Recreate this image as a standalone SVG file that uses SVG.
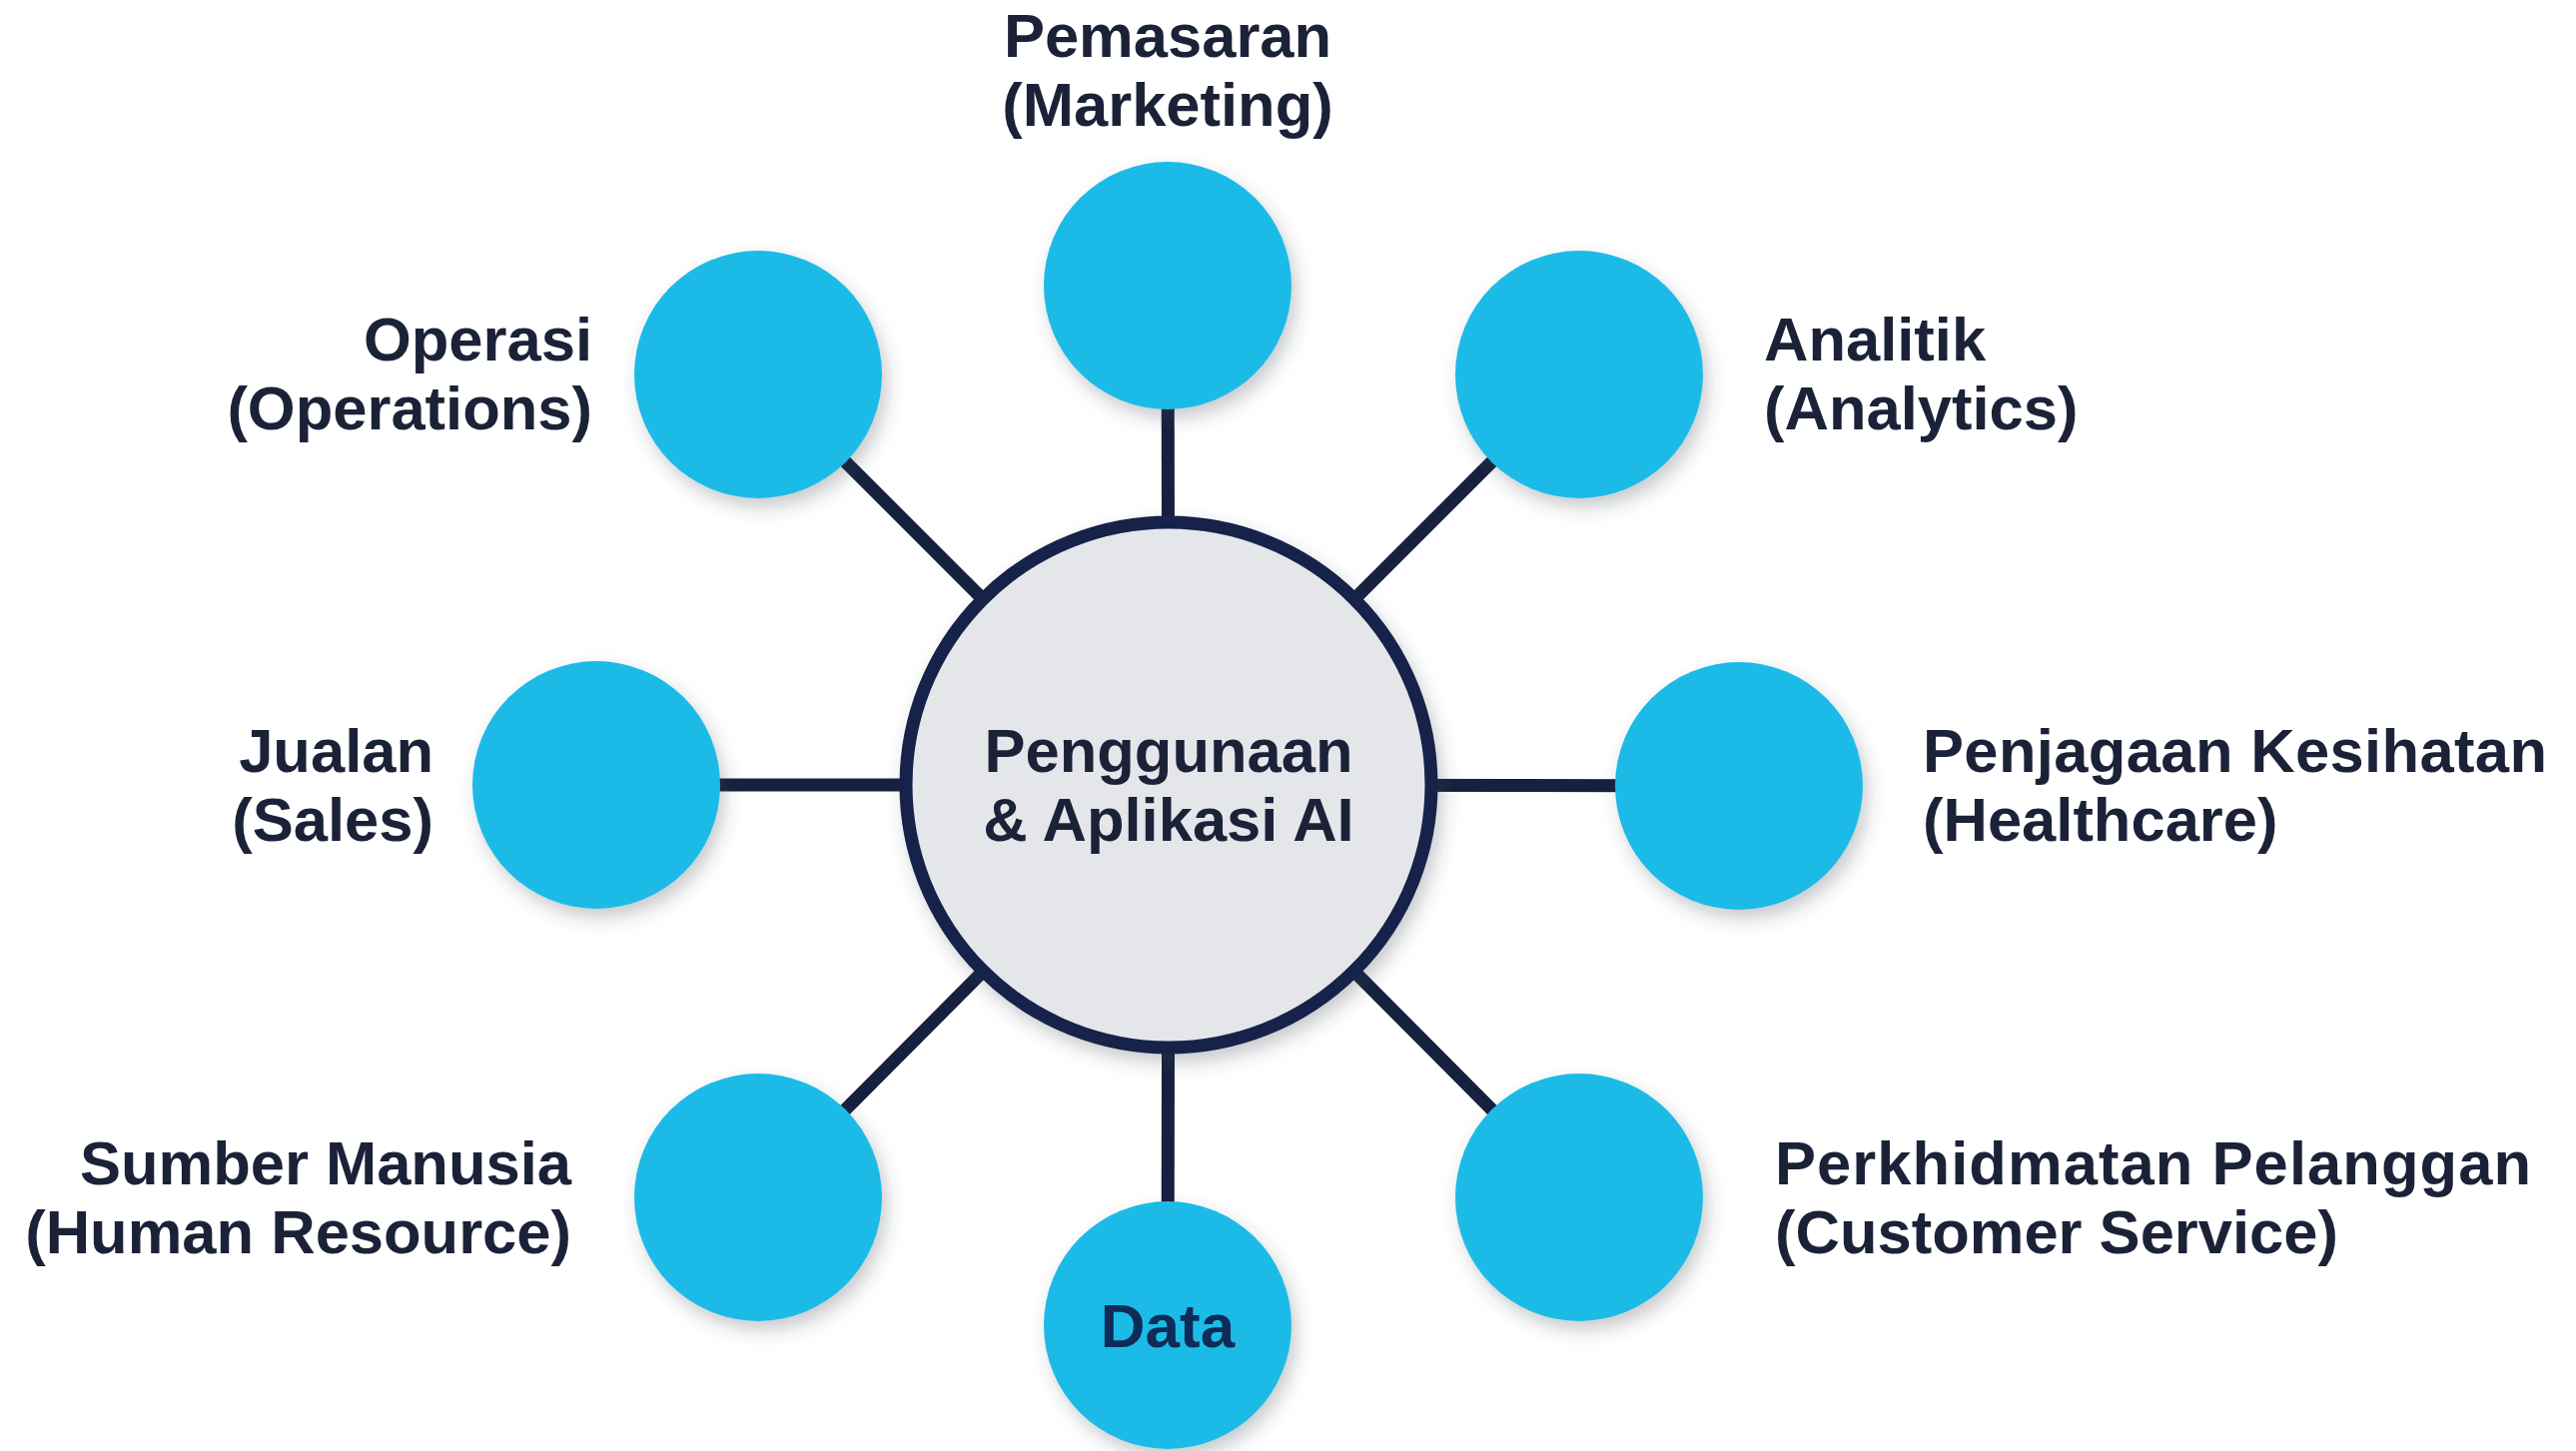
<svg xmlns="http://www.w3.org/2000/svg" width="2579" height="1453" viewBox="0 0 2579 1453">
  <defs>
    <filter id="soft-shadow" x="-30%" y="-30%" width="160%" height="160%">
      <feDropShadow dx="5" dy="9" stdDeviation="9" flood-color="#3a3f4a" flood-opacity="0.28"/>
    </filter>
  </defs>
  <style>
    .spoke { stroke: #15213f; stroke-width: 13; stroke-linecap: butt; }
    .hub { fill: #e4e6ea; stroke: #13224a; stroke-width: 13; filter: url(#soft-shadow); }
    .leaf { fill: #1dbbe7; filter: url(#soft-shadow); }
    .label { font-family: "Liberation Sans", Arial, sans-serif; font-weight: 700; font-size: 61.5px; fill: #1b2238; }
    .hub-text { font-family: "Liberation Sans", Arial, sans-serif; font-weight: 700; font-size: 61.5px; fill: #1b2238; text-anchor: middle; }
    .leaf-text { font-family: "Liberation Sans", Arial, sans-serif; font-weight: 700; font-size: 62px; fill: #0f2b57; text-anchor: middle; }
    .start { text-anchor: start; }
    .end { text-anchor: end; }
    .mid { text-anchor: middle; }
  </style>

  <rect width="2579" height="1453" fill="#ffffff"/>

  <!-- spokes from the hub to each area -->
  <g id="connectors">
    <line class="spoke" x1="1170" y1="786" x2="1169" y2="286"/>
    <line class="spoke" x1="1170" y1="786" x2="1581" y2="375"/>
    <line class="spoke" x1="1170" y1="786" x2="1741" y2="787"/>
    <line class="spoke" x1="1170" y1="786" x2="1581" y2="1199"/>
    <line class="spoke" x1="1170" y1="786" x2="1169" y2="1327"/>
    <line class="spoke" x1="1170" y1="786" x2="759" y2="1199"/>
    <line class="spoke" x1="1170" y1="786" x2="597" y2="786"/>
    <line class="spoke" x1="1170" y1="786" x2="759" y2="375"/>
  </g>

  <g id="hub">
    <circle class="hub" cx="1170" cy="786" r="263"/>
    <text class="hub-text" x="1170" y="773">Penggunaan</text>
    <text class="hub-text" x="1170" y="842">&amp; Aplikasi AI</text>
  </g>

  <g id="marketing">
    <circle class="leaf" cx="1169" cy="286" r="124"/>
    <text class="label mid" x="1169" y="57">Pemasaran</text>
    <text class="label mid" x="1169" y="126">(Marketing)</text>
  </g>

  <g id="analytics">
    <circle class="leaf" cx="1581" cy="375" r="124"/>
    <text class="label start" x="1766" y="361">Analitik</text>
    <text class="label start" x="1766" y="430">(Analytics)</text>
  </g>

  <g id="healthcare">
    <circle class="leaf" cx="1741" cy="787" r="124"/>
    <text class="label start" x="1925" y="773" textLength="625" lengthAdjust="spacing">Penjagaan Kesihatan</text>
    <text class="label start" x="1925" y="842">(Healthcare)</text>
  </g>

  <g id="customer-service">
    <circle class="leaf" cx="1581" cy="1199" r="124"/>
    <text class="label start" x="1777" y="1186" textLength="757" lengthAdjust="spacing">Perkhidmatan Pelanggan</text>
    <text class="label start" x="1777" y="1255">(Customer Service)</text>
  </g>

  <g id="data">
    <circle class="leaf" cx="1169" cy="1327" r="124"/>
    <text class="leaf-text" x="1169" y="1349">Data</text>
  </g>

  <g id="human-resource">
    <circle class="leaf" cx="759" cy="1199" r="124"/>
    <text class="label end" x="572" y="1186">Sumber Manusia</text>
    <text class="label end" x="572" y="1255">(Human Resource)</text>
  </g>

  <g id="sales">
    <circle class="leaf" cx="597" cy="786" r="124"/>
    <text class="label end" x="434" y="773">Jualan</text>
    <text class="label end" x="434" y="842">(Sales)</text>
  </g>

  <g id="operations">
    <circle class="leaf" cx="759" cy="375" r="124"/>
    <text class="label end" x="593" y="361">Operasi</text>
    <text class="label end" x="593" y="430">(Operations)</text>
  </g>
</svg>
